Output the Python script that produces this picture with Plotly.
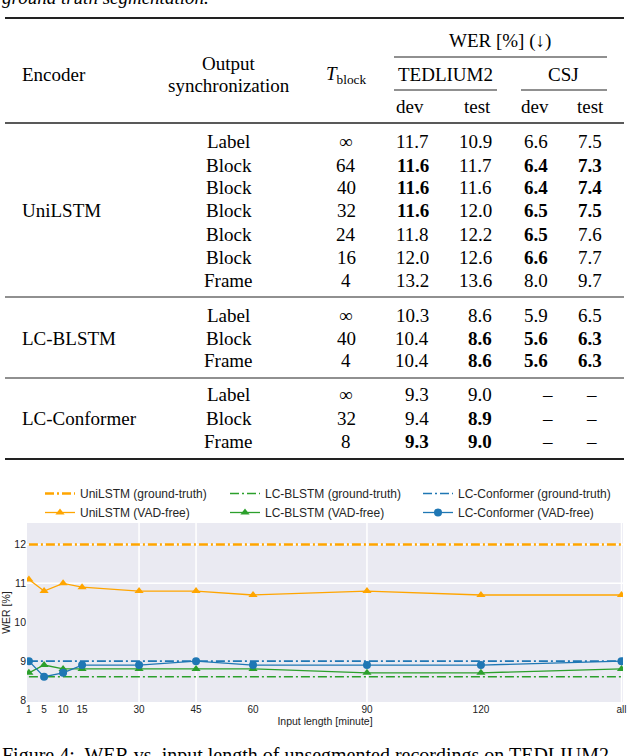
import plotly.graph_objects as go

W, H = 628, 756

def px(x):
    return x / W

def py(y):
    return 1 - y / H

# ---------------- table data ----------------
encoders = ["UniLSTM", "LC-BLSTM", "LC-Conformer"]
enc_rows = [7, 3, 3]
sync = ["Label", "Block", "Block", "Block", "Block", "Block", "Frame",
        "Label", "Block", "Frame",
        "Label", "Block", "Frame"]
tblock = ["∞", "64", "40", "32", "24", "16", "4",
          "∞", "40", "4",
          "∞", "32", "8"]
ted_dev = ["11.7", "11.6", "11.6", "11.6", "11.8", "12.0", "13.2",
           "10.3", "10.4", "10.4",
           "9.3", "9.4", "9.3"]
ted_test = ["10.9", "11.7", "11.6", "12.0", "12.2", "12.6", "13.6",
            "8.6", "8.6", "8.6",
            "9.0", "8.9", "9.0"]
csj_dev = ["6.6", "6.4", "6.4", "6.5", "6.5", "6.6", "8.0",
           "5.9", "5.6", "5.6",
           "–", "–", "–"]
csj_test = ["7.5", "7.3", "7.4", "7.5", "7.6", "7.7", "9.7",
            "6.5", "6.3", "6.3",
            "–", "–", "–"]
bold_ted_dev = [0, 1, 1, 1, 0, 0, 0, 0, 0, 0, 0, 0, 1]
bold_ted_test = [0, 0, 0, 0, 0, 0, 0, 0, 1, 1, 0, 1, 1]
bold_csj_dev = [0, 1, 1, 1, 1, 1, 0, 0, 1, 1, 0, 0, 0]
bold_csj_test = [0, 1, 1, 1, 0, 0, 0, 0, 1, 1, 0, 0, 0]

# ---------------- chart data ----------------
x_labels = ["1", "5", "10", "15", "30", "45", "60", "90", "120", "all"]
x_pos = [1, 5, 10, 15, 30, 45, 60, 90, 120, 157]
uni_gt = 12.0
blstm_gt = 8.6
conf_gt = 9.0
uni_vad = [11.1, 10.8, 11.0, 10.9, 10.8, 10.8, 10.7, 10.8, 10.7, 10.7]
blstm_vad = [8.7, 8.9, 8.8, 8.8, 8.8, 8.8, 8.8, 8.7, 8.7, 8.8]
conf_vad = [9.0, 8.6, 8.7, 8.9, 8.9, 9.0, 8.9, 8.9, 8.9, 9.0]
grid_x = [30, 45, 90, 157]
grid_y = [11, 12]

ORANGE = "#FFA500"
GREEN = "#2CA02C"
BLUE = "#1F77B4"
DASHDOT = "9px,3px,2px,3px"

fig = go.Figure()

fig.add_trace(go.Scatter(x=x_pos, y=[uni_gt] * len(x_pos), mode="lines",
                         name="UniLSTM (ground-truth)", legend="legend",
                         line=dict(color=ORANGE, width=2.5, dash=DASHDOT)))
fig.add_trace(go.Scatter(x=x_pos, y=uni_vad, mode="lines+markers",
                         name="UniLSTM (VAD-free)", legend="legend",
                         line=dict(color=ORANGE, width=1.3),
                         marker=dict(symbol="triangle-up", size=8, color=ORANGE)))
fig.add_trace(go.Scatter(x=x_pos, y=[blstm_gt] * len(x_pos), mode="lines",
                         name="LC-BLSTM (ground-truth)", legend="legend2",
                         line=dict(color=GREEN, width=1.6, dash=DASHDOT)))
fig.add_trace(go.Scatter(x=x_pos, y=blstm_vad, mode="lines+markers",
                         name="LC-BLSTM (VAD-free)", legend="legend2",
                         line=dict(color=GREEN, width=1.3),
                         marker=dict(symbol="triangle-up", size=8, color=GREEN)))
fig.add_trace(go.Scatter(x=x_pos, y=[conf_gt] * len(x_pos), mode="lines",
                         name="LC-Conformer (ground-truth)", legend="legend3",
                         line=dict(color=BLUE, width=1.6, dash=DASHDOT)))
fig.add_trace(go.Scatter(x=x_pos, y=conf_vad, mode="lines+markers",
                         name="LC-Conformer (VAD-free)", legend="legend3",
                         line=dict(color=BLUE, width=1.3),
                         marker=dict(symbol="circle", size=8, color=BLUE)))

shapes = []
for gx in grid_x:
    shapes.append(dict(type="line", xref="x", yref="y domain", x0=gx, x1=gx,
                       y0=0, y1=1, line=dict(color="white", width=1.5), layer="below"))
for gy in grid_y:
    shapes.append(dict(type="line", xref="x domain", yref="y", x0=0, x1=1,
                       y0=gy, y1=gy, line=dict(color="white", width=1.5), layer="below"))

# ---------------- table ----------------
SERIF = "Liberation Serif"
FS = 19
annotations = []

def txt(x, y, s, xanchor="center", size=FS, italic=False):
    annotations.append(dict(xref="paper", yref="paper", x=px(x), y=py(y), text=s,
                            showarrow=False, xanchor=xanchor, yanchor="middle",
                            font=dict(family=SERIF, size=size, color="black",
                                      style="italic" if italic else "normal")))

def rule(x0, x1, y, w):
    shapes.append(dict(type="line", xref="paper", yref="paper", x0=px(x0), x1=px(x1),
                       y0=py(y), y1=py(y), line=dict(color="#222222", width=w)))

# text cut at top and bottom of the page
txt(0, -3, "ground truth segmentation.", xanchor="left", italic=True)
txt(0, 755, "Figure 4:  WER vs. input length of unsegmented recordings on TEDLIUM2",
    xanchor="left", size=20)

rule(5, 624, 18, 1.8)
txt(500, 41, "WER [%] (↓)")
rule(394, 607, 57, 1.1)
txt(54, 75, "Encoder")
txt(229, 63, "Output")
txt(229, 86, "synchronization")
txt(346, 75, "<i>T</i><sub>block</sub>")
txt(445, 74, "TEDLIUM2")
txt(563, 74, "CSJ")
rule(394, 497, 90, 1.1)
rule(521, 607, 90, 1.1)
txt(410, 107, "dev")
txt(477, 107, "test")
txt(535, 107, "dev")
txt(590, 107, "test")
rule(5, 624, 123, 1.4)

row_y = [142, 165, 188, 211, 234, 257, 280,
         315, 338, 361,
         395, 418, 441]
group_rules = [297, 378]

def fmt(v, b):
    return "<b>%s</b>" % v if b else v

start = 0
for gi, (enc, n) in enumerate(zip(encoders, enc_rows)):
    ys = row_y[start:start + n]
    txt(20, (ys[0] + ys[-1]) / 2, enc, xanchor="left")
    for i in range(start, start + n):
        y = row_y[i]
        txt(229, y, sync[i])
        txt(346, y, tblock[i])
        txt(431, y, fmt(ted_dev[i], bold_ted_dev[i]), xanchor="right")
        txt(494, y, fmt(ted_test[i], bold_ted_test[i]), xanchor="right")
        if csj_dev[i] == "–":
            txt(547, y, csj_dev[i])
            txt(591, y, csj_test[i])
        else:
            txt(550, y, fmt(csj_dev[i], bold_csj_dev[i]), xanchor="right")
            txt(604, y, fmt(csj_test[i], bold_csj_test[i]), xanchor="right")
    if gi < len(group_rules):
        rule(5, 624, group_rules[gi], 1.1)
    start += n
rule(5, 624, 459, 1.8)

SANS = "Liberation Sans"

def legend_at(x):
    return dict(orientation="v", x=px(x), y=py(479), xanchor="left", yanchor="top",
                font=dict(family=SANS, size=12, color="#262626"),
                bgcolor="rgba(0,0,0,0)", tracegroupgap=0, itemwidth=30)

fig.update_layout(
    width=W, height=H,
    margin=dict(l=0, r=0, t=0, b=0, autoexpand=False),
    paper_bgcolor="white",
    plot_bgcolor="#EAEAF2",
    showlegend=True,
    legend=legend_at(40),
    legend2=legend_at(225),
    legend3=legend_at(418),
    shapes=shapes,
    annotations=annotations,
    xaxis=dict(domain=[px(27), px(623)], range=[0.5, 157.4], automargin=False,
               tickmode="array", tickvals=x_pos, ticktext=x_labels,
               showgrid=False, zeroline=False, showline=False, ticks="",
               tickfont=dict(family=SANS, size=10, color="#222222"),
               title=dict(text="Input length [minute]", standoff=1,
                          font=dict(family=SANS, size=10.5, color="#222222"))),
    yaxis=dict(domain=[py(702), py(523)], range=[7.95, 12.55], automargin=False,
               tickmode="array", tickvals=[8, 9, 10, 11, 12],
               showgrid=False, zeroline=False, showline=False, ticks="",
               tickfont=dict(family=SANS, size=10.5, color="#222222"),
               title=dict(text="WER [%]", standoff=4,
                          font=dict(family=SANS, size=10.5, color="#222222"))),
)

fig.write_html("out.html", config={"displayModeBar": False},
               post_script="document.body.style.margin='0';document.body.style.overflow='hidden';")
